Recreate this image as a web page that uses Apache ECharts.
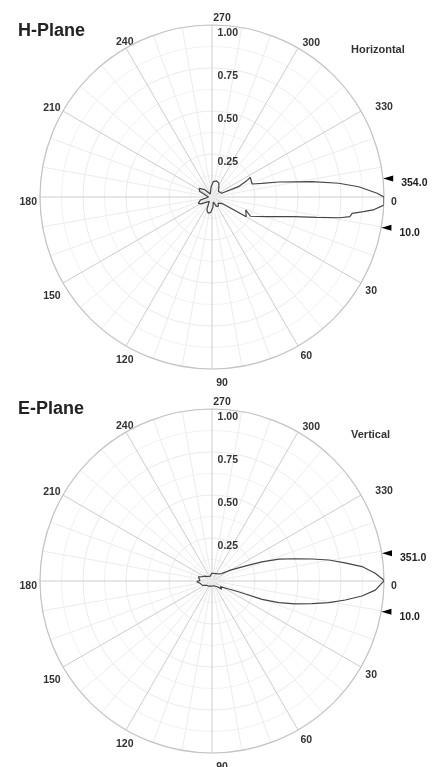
<!DOCTYPE html>
<html><head><meta charset="utf-8">
<script src="https://cdn.jsdelivr.net/npm/echarts@6/dist/echarts.min.js"></script>
<style>html,body{margin:0;padding:0;background:#fff}#c{width:440px;height:767px}</style>
</head><body><div id="c"></div>
<script>
// H-Plane (Horizontal) pattern: path of [angle in degrees, relative gain]
const hAngles = [0, 2.7, 4.6, 5.5, 6.7, 8.1, 9.2, 11, 13.6, 16, 19.8, 23, 26.6, 21, 30, 33,
  45, 55, 65, 75, 85, 95, 103, 112, 122, 135, 148, 155, 165, 180, 195, 205, 214, 225, 240, 255,
  265, 275, 286, 296, 305, 318, 330, 339, 338.6, 334.8, 333, 342, 344.7, 347.3, 351.3, 353.8, 356, 358.7, 360];
const hGain = [1.00, 1.00, 0.94, 0.885, 0.82, 0.81, 0.755, 0.62, 0.487, 0.415, 0.338, 0.29, 0.25, 0.21, 0.23, 0.07,
  0.05, 0.065, 0.06, 0.03, 0.06, 0.09, 0.097, 0.08, 0.03, 0.03, 0.075, 0.088, 0.07, 0.02, 0.03, 0.08, 0.09, 0.06, 0.02, 0.02,
  0.06, 0.09, 0.097, 0.09, 0.07, 0.05, 0.05, 0.06, 0.165, 0.223, 0.25, 0.245, 0.30, 0.397, 0.588, 0.741, 0.855, 0.96, 1.00];

// E-Plane (Vertical) pattern
const eAngles = [0, 3.2, 5.7, 8.1, 10.5, 12.8, 15.4, 18, 20.1, 21.3, 22, 25.6, 34, 40, 48, 57, 67, 77, 95, 120, 140,
  155, 163, 169, 177, 183, 189, 197, 205, 215, 228, 238, 252, 268, 285, 300, 312, 318, 322, 328.3, 335.8, 338.9,
  342, 345, 347.6, 349.8, 352.2, 354.5, 357.3, 359.7, 360];
const eGain = [1.00, 0.951, 0.876, 0.783, 0.69, 0.596, 0.50, 0.408, 0.31, 0.208, 0.17, 0.108, 0.058, 0.074, 0.045, 0.05, 0.03, 0.034, 0.03, 0.035, 0.04,
  0.06, 0.05, 0.071, 0.089, 0.07, 0.061, 0.083, 0.06, 0.05, 0.035, 0.041, 0.03, 0.045, 0.035, 0.05, 0.055, 0.045, 0.07, 0.114, 0.21, 0.31,
  0.41, 0.50, 0.595, 0.69, 0.78, 0.876, 0.95, 0.998, 1.00];

// half-power beam markers
const hMarkers = [354.0, 10.0];
const eMarkers = [351.0, 10.0];

const titles = ['H-Plane', 'E-Plane'];
const subTitles = ['Horizontal', 'Vertical'];

// angle tick labels, grouped by how the original tool placed them
const labelGroupA = [30, 60];
const labelGroupB = [0, 150, 180, 210, 300];
const labelGroupC = [90, 120, 240, 270, 330];

const FONT = 'Liberation Sans, Arial, Helvetica, sans-serif';
const toAxis = a => (a > 270 ? a - 360 : a);
const deg = v => (v + 360) % 360;

const CENTERS = [[212, 197], [212, 581]];
const R = 172;

const labelStyle = { fontSize: 10.5, fontWeight: 'bold', color: '#333', fontFamily: FONT };

function angleAxis(idx, group, showGrid) {
  return {
    polarIndex: idx, type: 'value', min: -90, max: 270, interval: 30,
    startAngle: 90, clockwise: true,
    axisLine: { show: showGrid, lineStyle: { color: '#c4c4c4', width: 1.2 } },
    axisTick: { show: false },
    axisLabel: Object.assign({ show: true, margin: 5, formatter: v => (group.indexOf(deg(v)) >= 0 ? String(deg(v)) : '') }, labelStyle),
    splitLine: { show: showGrid, lineStyle: { color: '#cdcdcd', width: 1 } },
    minorTick: { show: false, splitNumber: 3 },
    minorSplitLine: { show: showGrid, lineStyle: { color: '#ececec', width: 1 } }
  };
}
function radiusAxis(idx, showGrid) {
  return {
    polarIndex: idx, type: 'value', min: 0, max: 1, interval: 0.25,
    axisLine: { show: false }, axisTick: { show: false },
    axisLabel: Object.assign({ show: showGrid, formatter: v => (v ? v.toFixed(2) : ''), margin: -26, verticalAlign: 'top', padding: [3, 0, 0, 0] }, labelStyle),
    splitLine: { show: showGrid, lineStyle: { color: '#ebebeb' } },
    minorTick: { show: false, splitNumber: 2 },
    minorSplitLine: { show: showGrid, lineStyle: { color: '#f2f2f2' } }
  };
}
function markerSeries(idx, list) {
  return {
    type: 'scatter', coordinateSystem: 'polar', polarIndex: idx, clip: false, silent: true,
    symbol: 'triangle', symbolSize: [6, 10], symbolRotate: 90,
    itemStyle: { color: '#000', opacity: 1 },
    label: Object.assign({ show: true, position: 'right', distance: 8, offset: [0, 5], formatter: p => p.data[2], opacity: 1 }, labelStyle, { color: '#222' }),
    data: list.map(a => [1.03, toAxis(a), a.toFixed(1)])
  };
}
function patternSeries(idx, angles, gains) {
  return {
    type: 'line', coordinateSystem: 'polar', polarIndex: idx, symbol: 'none', silent: true,
    lineStyle: { color: '#454545', width: 1.2 },
    data: angles.map((a, i) => [gains[i], toAxis(a)])
  };
}

// polars: 0,1 = charts; 2..5 = label-only copies shifted like the original tool's labels
const polar = [], aAxes = [], rAxes = [];
CENTERS.forEach((c, k) => {
  polar.push({ center: c, radius: R });
});
CENTERS.forEach((c, k) => {
  polar.push({ center: [c[0] + 2, c[1] + 5], radius: R });
  polar.push({ center: [c[0] + 10, c[1] + 4], radius: R });
});
aAxes.push(angleAxis(0, labelGroupA, true), angleAxis(1, labelGroupA, true));
aAxes.push(angleAxis(2, labelGroupB, false), angleAxis(3, labelGroupC, false));
aAxes.push(angleAxis(4, labelGroupB, false), angleAxis(5, labelGroupC, false));
rAxes.push(radiusAxis(0, true), radiusAxis(1, true));
for (let i = 2; i < 6; i++) rAxes.push(radiusAxis(i, false));

const chart = echarts.init(document.getElementById('c'), null, { renderer: 'canvas' });
chart.setOption({
  animation: false,
  backgroundColor: '#fff',
  title: [
    { text: titles[0], left: 18, top: 22, padding: 0, textStyle: { fontSize: 18, fontWeight: 'bold', color: '#222', fontFamily: FONT } },
    { text: subTitles[0], left: 351, top: 44, padding: 0, textStyle: { fontSize: 11, fontWeight: 'bold', color: '#333', fontFamily: FONT } },
    { text: titles[1], left: 18, top: 400, padding: 0, textStyle: { fontSize: 18, fontWeight: 'bold', color: '#222', fontFamily: FONT } },
    { text: subTitles[1], left: 351, top: 429, padding: 0, textStyle: { fontSize: 11, fontWeight: 'bold', color: '#333', fontFamily: FONT } }
  ],
  polar: polar,
  angleAxis: aAxes,
  radiusAxis: rAxes,
  series: [
    patternSeries(0, hAngles, hGain),
    patternSeries(1, eAngles, eGain),
    markerSeries(0, hMarkers),
    markerSeries(1, eMarkers)
  ]
});
</script></body></html>
